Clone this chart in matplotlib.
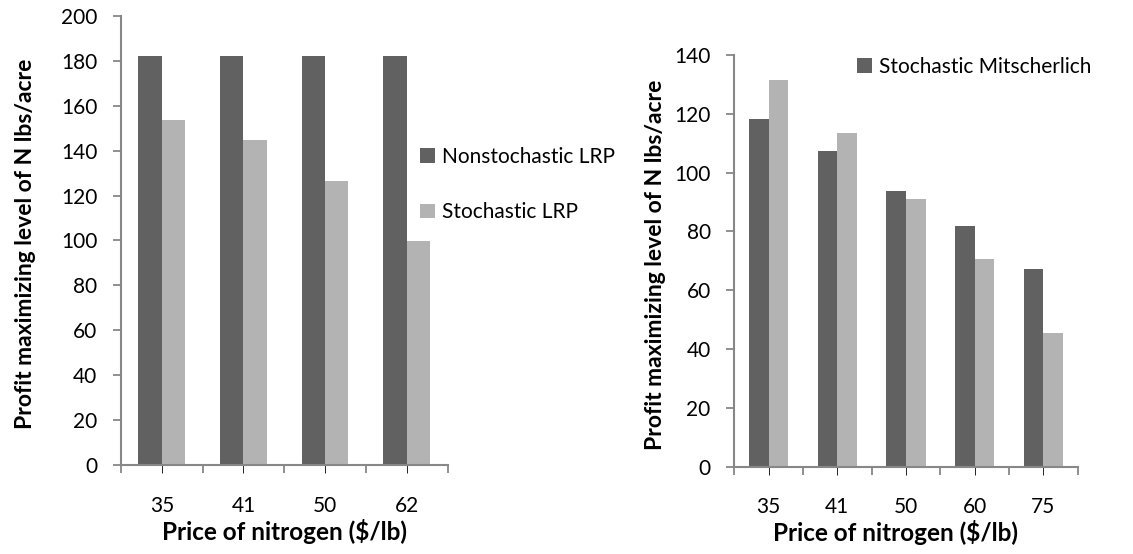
import matplotlib
matplotlib.use('Agg')
import matplotlib.pyplot as plt
import numpy as np

# LRP model: price of nitrogen vs optimal N rate
lrp_prices = ['35', '41', '50', '62']
lrp_nonstochastic = [182.1, 182.1, 182.1, 182.1]
lrp_stochastic = [153.5, 144.5, 126.3, 99.6]

# Mitscherlich model
mit_prices = ['35', '41', '50', '60', '75']
mit_stochastic = [118.3, 107.3, 93.9, 81.9, 67.3]
mit_other = [131.4, 113.6, 91.2, 70.7, 45.6]

DARK = '#616161'
LIGHT = '#b3b3b3'
AXIS = '#878787'

plt.rcParams['font.family'] = ['Lato', 'DejaVu Sans']
plt.rcParams['font.size'] = 15


def style_axes(ax, labels, ymax, ystep):
    n = len(labels)
    ax.set_xlim(0, n)
    ax.set_ylim(0, ymax)
    ax.set_yticks(np.arange(0, ymax + 1, ystep))
    # boundaries get the tick marks, centres get the labels
    ax.set_xticks(np.arange(n + 1))
    ax.set_xticklabels([])
    ax.set_xticks(np.arange(n) + 0.5, minor=True)
    ax.set_xticklabels(labels, minor=True)
    ax.tick_params(axis='x', which='major', length=6, width=1.3, color=AXIS, direction='out')
    ax.tick_params(axis='x', which='minor', length=6, pad=16, labelsize=15)
    ax.tick_params(axis='y', length=6, width=1.3, color=AXIS, pad=11, labelsize=15)
    for side in ['top', 'right']:
        ax.spines[side].set_visible(False)
    for side in ['left', 'bottom']:
        ax.spines[side].set_color(AXIS)
        ax.spines[side].set_linewidth(1.5)
    ax.set_xlabel('Price of nitrogen ($/lb)', fontweight='bold', fontsize=17.5)
    ax.set_ylabel('Profit maximizing level of N lbs/acre', fontweight='bold', fontsize=16.5)


def add_legend(ax, handles, anchor, spacing):
    ax.legend(handles=handles, loc='center left', bbox_to_anchor=anchor,
              bbox_transform=fig.transFigure, frameon=False, handlelength=0.7,
              handleheight=0.7, handletextpad=0.35, labelspacing=spacing,
              fontsize=15, borderpad=0, borderaxespad=0)


fig = plt.figure(figsize=(11.33, 5.54), dpi=100)
w = 1 / 3.5

ax1 = fig.add_axes([0.1068, 0.1601, 0.2882, 0.8116])
x1 = np.arange(len(lrp_prices)) + 0.5
b1 = ax1.bar(x1 - w / 2, lrp_nonstochastic, width=w, color=DARK, label='Nonstochastic LRP')
b2 = ax1.bar(x1 + w / 2, lrp_stochastic, width=w, color=LIGHT, label='Stochastic LRP')
style_axes(ax1, lrp_prices, 200, 20)
ax1.yaxis.set_label_coords(-0.26, 0.492)
ax1.xaxis.set_label_coords(0.5, -0.12)
add_legend(ax1, [b1, b2], (0.3707, 0.667), 1.7)

ax2 = fig.add_axes([0.6481, 0.1576, 0.3031, 0.7431])
x2 = np.arange(len(mit_prices)) + 0.5
b3 = ax2.bar(x2 - w / 2, mit_stochastic, width=w, color=DARK, label='Stochastic Mitscherlich')
ax2.bar(x2 + w / 2, mit_other, width=w, color=LIGHT)
style_axes(ax2, mit_prices, 140, 20)
ax2.yaxis.set_label_coords(-0.199, 0.49)
ax2.xaxis.set_label_coords(0.468, -0.13)
add_legend(ax2, [b3], (0.7564, 0.879), 0.5)

fig.savefig('out.png', dpi=100)
